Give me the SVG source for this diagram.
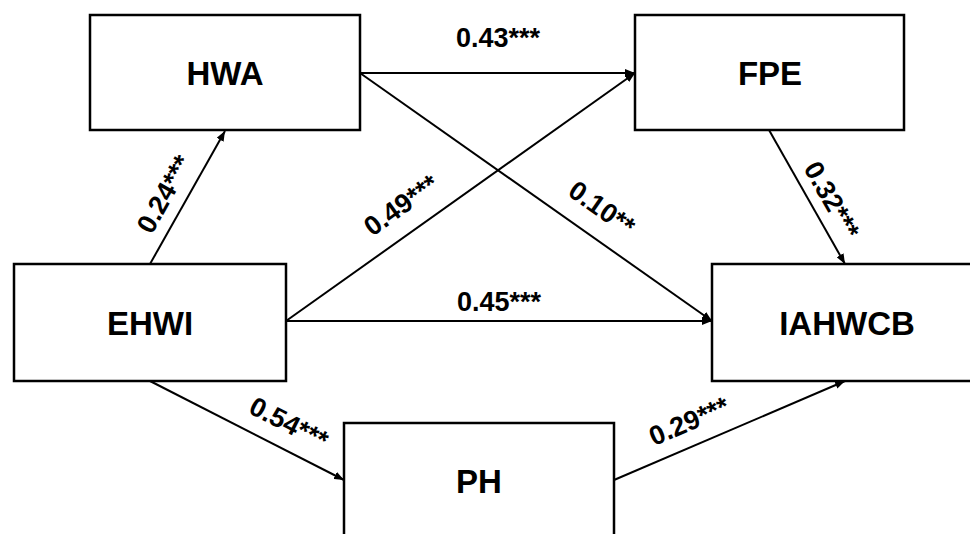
<svg xmlns="http://www.w3.org/2000/svg" width="970" height="534" viewBox="0 0 970 534">
<style>
.box{fill:#fff;stroke:#000;stroke-width:2.5}
.nt{font-family:"Liberation Sans",Arial,sans-serif;font-weight:bold;font-size:33px;text-anchor:middle;fill:#000}
.lt{font-family:"Liberation Sans",Arial,sans-serif;font-weight:bold;font-size:27px;text-anchor:middle;fill:#000}
.ln{stroke:#000;stroke-width:2;fill:none;marker-end:url(#arr)}
</style>
<defs>
<marker id="arr" viewBox="0 0 10 8" refX="10" refY="4" markerWidth="10" markerHeight="8" markerUnits="userSpaceOnUse" orient="auto"><path d="M0,0 L10,4 L0,8 z" fill="#000"/></marker>
</defs>
<rect width="970" height="534" fill="#fff"/>
<g id="connectors">
<line class="ln" x1="150" y1="264" x2="225" y2="131"/>
<line class="ln" x1="360" y1="73" x2="635" y2="73"/>
<line class="ln" x1="360" y1="73" x2="712" y2="321"/>
<line class="ln" x1="286" y1="321" x2="635" y2="73"/>
<line class="ln" x1="286" y1="321" x2="712" y2="321"/>
<line class="ln" x1="769" y1="130" x2="845" y2="264"/>
<line class="ln" x1="150" y1="381" x2="344" y2="480"/>
<line class="ln" x1="614" y1="480" x2="845" y2="381"/>
</g>
<g id="labels">
<text class="lt" x="498" y="47">0.43***</text>
<text class="lt" x="499" y="311">0.45***</text>
<text class="lt" transform="translate(401,205) rotate(-35.4)" y="9.5">0.49***</text>
<text class="lt" transform="translate(602,208) rotate(35.2)" y="9.5">0.10**</text>
<text class="lt" transform="translate(164,194) rotate(-60.6)" y="9.5">0.24***</text>
<text class="lt" transform="translate(832,200) rotate(60.4)" y="9.5">0.32***</text>
<text class="lt" transform="translate(289,423) rotate(27)" y="9.5">0.54***</text>
<text class="lt" transform="translate(689,421) rotate(-23.2)" y="9.5">0.29***</text>
</g>
<g id="HWA"><rect class="box" x="90" y="15" width="270" height="115"/><text class="nt" x="225" y="85">HWA</text></g>
<g id="FPE"><rect class="box" x="635" y="15" width="269" height="115"/><text class="nt" x="770" y="85">FPE</text></g>
<g id="EHWI"><rect class="box" x="14" y="264" width="272" height="117"/><text class="nt" x="150" y="335">EHWI</text></g>
<g id="IAHWCB"><rect class="box" x="712" y="264" width="270" height="117"/><text class="nt" x="847" y="335">IAHWCB</text></g>
<g id="PH"><rect class="box" x="344" y="423" width="270" height="117"/><text class="nt" x="479" y="493">PH</text></g>
</svg>
